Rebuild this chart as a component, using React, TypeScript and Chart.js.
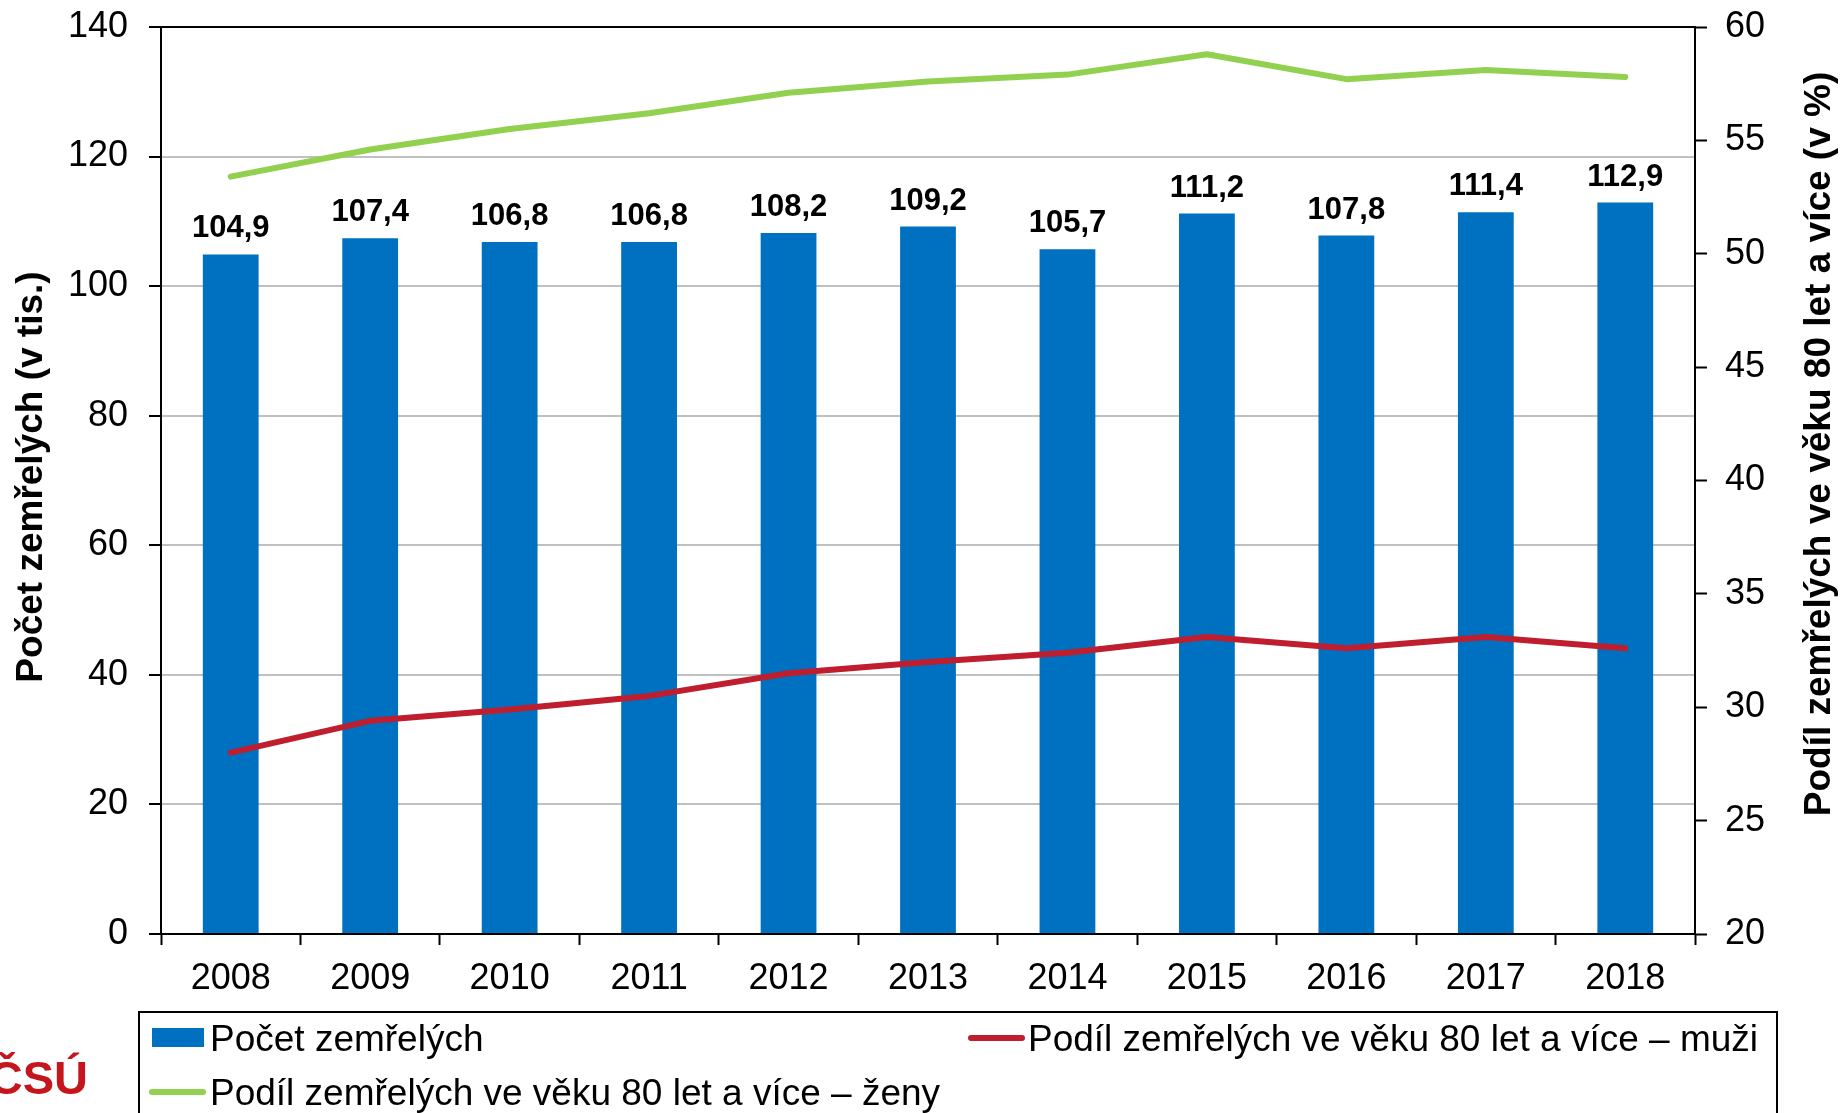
import React, { useEffect, useRef } from 'react';
import { Chart, registerables } from 'chart.js';

Chart.register(...registerables);

const FONT = "'Liberation Sans', Arial, sans-serif";

const years = ['2008', '2009', '2010', '2011', '2012', '2013', '2014', '2015', '2016', '2017', '2018'];
const deaths = [104.9, 107.4, 106.8, 106.8, 108.2, 109.2, 105.7, 111.2, 107.8, 111.4, 112.9];
const shareMen = [28.0, 29.4, 29.9, 30.5, 31.5, 32.0, 32.4, 33.1, 32.6, 33.1, 32.6];
const shareWomen = [53.4, 54.6, 55.5, 56.2, 57.1, 57.6, 57.9, 58.8, 57.7, 58.1, 57.8];

const seriesLabels = [
  'Počet zemřelých',
  'Podíl zemřelých ve věku 80 let a více – muži',
  'Podíl zemřelých ve věku 80 let a více – ženy',
];
const leftTitle = 'Počet zemřelých (v tis.)';
const rightTitle = 'Podíl zemřelých ve věku 80 let a více (v %)';
const logoText = 'ČSÚ';

const leftRange = { min: 0, max: 140, step: 20 };
const rightRange = { min: 20, max: 60, step: 5 };

const BLUE = '#0070c0';
const RED = '#be1e2d';
const GREEN = '#92d050';

const overlay = {
  id: 'overlay',
  afterDatasetsDraw(chart: any) {
    const ctx = chart.ctx;
    const meta = chart.getDatasetMeta(0);
    ctx.save();
    ctx.font = `bold 31px ${FONT}`;
    ctx.fillStyle = '#000';
    ctx.textAlign = 'center';
    ctx.textBaseline = 'alphabetic';
    meta.data.forEach((el: any, i: number) => {
      const v = chart.data.datasets[0].data[i] as number;
      ctx.fillText(v.toFixed(1).replace('.', ','), el.x, el.y - 17);
    });
    ctx.restore();
  },
  afterDraw(chart: any) {
    const { ctx, chartArea } = chart;
    ctx.save();
    // top border of plot area
    ctx.strokeStyle = '#000';
    ctx.lineWidth = 2;
    ctx.beginPath();
    ctx.moveTo(chartArea.left, chartArea.top);
    ctx.lineTo(chartArea.right, chartArea.top);
    ctx.stroke();

    // axis titles
    ctx.fillStyle = '#000';
    ctx.font = `bold 37px ${FONT}`;
    ctx.textAlign = 'center';
    ctx.textBaseline = 'middle';
    ctx.save();
    ctx.translate(32, 477);
    ctx.rotate(-Math.PI / 2);
    ctx.fillText(leftTitle, 0, 0);
    ctx.restore();
    ctx.save();
    ctx.translate(1820, 444);
    ctx.rotate(-Math.PI / 2);
    ctx.fillText(rightTitle, 0, 0);
    ctx.restore();

    // legend
    const ds = chart.data.datasets;
    ctx.strokeStyle = '#000';
    ctx.lineWidth = 2;
    ctx.strokeRect(139, 1012, 1638, 140);
    ctx.font = `37px ${FONT}`;
    ctx.textAlign = 'left';
    ctx.textBaseline = 'alphabetic';
    // bar item
    ctx.fillStyle = ds[0].backgroundColor;
    ctx.fillRect(152, 1028, 52, 19);
    ctx.fillStyle = '#000';
    ctx.fillText(ds[0].label, 210, 1051);
    // red item
    ctx.lineCap = 'round';
    ctx.lineWidth = 6;
    ctx.strokeStyle = ds[1].borderColor;
    ctx.beginPath();
    ctx.moveTo(971, 1038);
    ctx.lineTo(1022, 1038);
    ctx.stroke();
    ctx.fillText(ds[1].label, 1028, 1051);
    // green item
    ctx.strokeStyle = ds[2].borderColor;
    ctx.beginPath();
    ctx.moveTo(152, 1092);
    ctx.lineTo(203, 1092);
    ctx.stroke();
    ctx.fillText(ds[2].label, 210, 1105);

    // logo
    ctx.fillStyle = '#c4161c';
    ctx.font = `bold 47px ${FONT}`;
    ctx.textAlign = 'right';
    ctx.fillText(logoText, 88, 1094);
    ctx.restore();
  },
};

export default function App() {
  const ref = useRef<HTMLCanvasElement | null>(null);

  useEffect(() => {
    document.body.style.margin = '0';
    if (!ref.current) return;
    Chart.defaults.font.family = FONT;
    Chart.defaults.color = '#000';
    const chart = new Chart(ref.current, {
      type: 'bar',
      data: {
        labels: years,
        datasets: [
          {
            type: 'bar',
            label: seriesLabels[0],
            data: deaths,
            backgroundColor: BLUE,
            borderWidth: 0,
            yAxisID: 'y',
            barPercentage: 0.4,
            categoryPercentage: 1,
            order: 2,
          } as any,
          {
            type: 'line',
            label: seriesLabels[1],
            data: shareMen,
            borderColor: RED,
            backgroundColor: RED,
            borderWidth: 6,
            borderCapStyle: 'round',
            borderJoinStyle: 'round',
            pointRadius: 0,
            tension: 0,
            yAxisID: 'y1',
            order: 1,
          },
          {
            type: 'line',
            label: seriesLabels[2],
            data: shareWomen,
            borderColor: GREEN,
            backgroundColor: GREEN,
            borderWidth: 6,
            borderCapStyle: 'round',
            borderJoinStyle: 'round',
            pointRadius: 0,
            tension: 0,
            yAxisID: 'y1',
            order: 1,
          },
        ],
      },
      options: {
        responsive: false,
        animation: false,
        devicePixelRatio: 1,
        layout: { padding: { top: 27, left: 0, right: 0, bottom: 109 } },
        plugins: {
          legend: { display: false },
          tooltip: { enabled: false },
          title: { display: false },
        },
        scales: {
          x: {
            offset: true,
            grid: {
              offset: true,
              drawOnChartArea: false,
              drawTicks: true,
              tickLength: 11,
              tickColor: '#000',
              tickWidth: 2,
            },
            border: { display: true, color: '#000', width: 2 },
            ticks: { font: { size: 36 }, color: '#000', padding: 12, maxRotation: 0 },
            afterFit: (s: any) => { s.height = 70; s.paddingLeft = 0; s.paddingRight = 0; },
          },
          y: {
            position: 'left',
            min: leftRange.min,
            max: leftRange.max,
            ticks: { stepSize: leftRange.step, font: { size: 36 }, color: '#000', padding: 21 },
            grid: {
              color: '#c0c0c0',
              lineWidth: 2,
              drawTicks: true,
              tickLength: 12,
              tickColor: '#000',
              tickWidth: 2,
            },
            border: { display: true, color: '#000', width: 2 },
            afterFit: (s: any) => { s.width = 161; s.paddingTop = 0; s.paddingBottom = 0; },
          },
          y1: {
            position: 'right',
            min: rightRange.min,
            max: rightRange.max,
            ticks: { stepSize: rightRange.step, font: { size: 36 }, color: '#000', padding: 18 },
            grid: {
              drawOnChartArea: false,
              drawTicks: true,
              tickLength: 12,
              tickColor: '#000',
              tickWidth: 2,
            },
            border: { display: true, color: '#000', width: 2 },
            afterFit: (s: any) => { s.width = 145; s.paddingTop = 0; s.paddingBottom = 0; },
          },
        },
      } as any,
      plugins: [overlay],
    });
    return () => chart.destroy();
  }, []);

  return (
    <div style={{ position: 'absolute', left: 0, top: 0, width: 1840, height: 1113, background: '#fff' }}>
      <canvas ref={ref} width={1840} height={1113} style={{ display: 'block' }} />
    </div>
  );
}
